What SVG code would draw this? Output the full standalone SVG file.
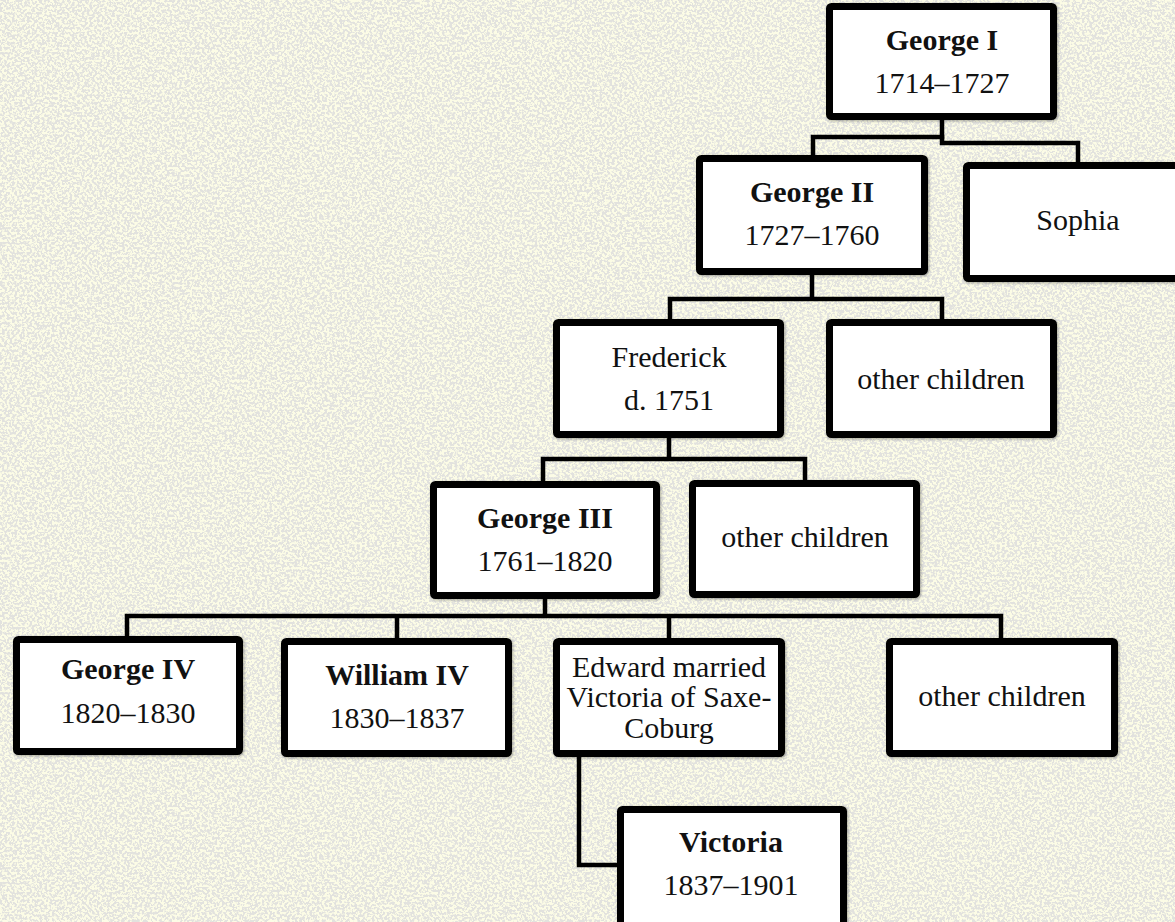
<svg xmlns="http://www.w3.org/2000/svg" width="1175" height="922" viewBox="0 0 1175 922">
<style>
.box{fill:#fff;stroke:#000;stroke-width:7;filter:url(#sh)}
.t{font-family:"Liberation Serif","Times New Roman",serif;font-size:30px;fill:#111;text-anchor:middle}
.b{font-weight:bold}
.c{fill:none;stroke:#000;stroke-width:4.5;stroke-linejoin:miter;stroke-linecap:square}
</style>
<defs>
<filter id="tex" x="0" y="0" width="100%" height="100%">
<feTurbulence type="fractalNoise" baseFrequency="0.4" numOctaves="2" seed="7"/>
<feColorMatrix type="matrix" values="0 0 0 0 0.76 0 0 0 0 0.76 0 0 0 0 0.73 9 0 0 0 -4.0"/>
</filter>
<filter id="sh" x="-10%" y="-10%" width="120%" height="120%">
<feDropShadow dx="1" dy="1" stdDeviation="1.5" flood-color="#000" flood-opacity="0.35"/>
</filter>
</defs>
<rect width="1175" height="922" fill="#fcfce6"/>
<rect width="1175" height="922" fill="#fff" filter="url(#tex)"/>
<g id="connectors">
<path class="c" d="M942,120 V143 H1078 V162"/>
<path class="c" d="M942,137 H813 V155"/>
<path class="c" d="M812,275 V299 H670 V319 M812,299 H942 V319"/>
<path class="c" d="M669,438 V459 H543 V481 M669,459 H805 V480"/>
<path class="c" d="M545,599 V616 H127 V636 M545,616 H1001 V638 M397,616 V638 M669,616 V638"/>
<path class="c" d="M579,757 V865 H617"/>
</g>
<g id="george1"><rect class="box" x="829.5" y="6.5" width="224" height="110" rx="2"/><text class="t b" x="942" y="50">George I</text><text class="t" x="942" y="93">1714–1727</text></g>
<g id="george2"><rect class="box" x="699.5" y="158.5" width="225" height="113" rx="2"/><text class="t b" x="812" y="202">George II</text><text class="t" x="812" y="245">1727–1760</text></g>
<g id="sophia"><rect class="box" x="966.5" y="165.5" width="223" height="113" rx="2"/><text class="t" x="1078" y="230">Sophia</text></g>
<g id="frederick"><rect class="box" x="556.5" y="322.5" width="224" height="112" rx="2"/><text class="t" x="669" y="367">Frederick</text><text class="t" x="669" y="410">d. 1751</text></g>
<g id="other1"><rect class="box" x="829.5" y="322.5" width="224" height="112" rx="2"/><text class="t" x="941" y="389">other children</text></g>
<g id="george3"><rect class="box" x="433.5" y="484.5" width="223" height="111" rx="2"/><text class="t b" x="545" y="528">George III</text><text class="t" x="545" y="571">1761–1820</text></g>
<g id="other2"><rect class="box" x="692.5" y="483.5" width="224" height="111" rx="2"/><text class="t" x="805" y="547">other children</text></g>
<g id="george4"><rect class="box" x="16.5" y="639.5" width="223" height="112" rx="2"/><text class="t b" x="128" y="679">George IV</text><text class="t" x="128" y="723">1820–1830</text></g>
<g id="william4"><rect class="box" x="284.5" y="641.5" width="224" height="112" rx="2"/><text class="t b" x="397" y="685">William IV</text><text class="t" x="397" y="728">1830–1837</text></g>
<g id="edward"><rect class="box" x="556.5" y="641.5" width="225" height="112" rx="2"/><text class="t" x="669" y="677">Edward married</text><text class="t" x="669" y="707">Victoria of Saxe-</text><text class="t" x="669" y="738">Coburg</text></g>
<g id="other3"><rect class="box" x="889.5" y="641.5" width="225" height="112" rx="2"/><text class="t" x="1002" y="706">other children</text></g>
<g id="victoria"><rect class="box" x="620.5" y="809.5" width="223" height="120" rx="2"/><text class="t b" x="731" y="852">Victoria</text><text class="t" x="731" y="895">1837–1901</text></g>
</svg>
